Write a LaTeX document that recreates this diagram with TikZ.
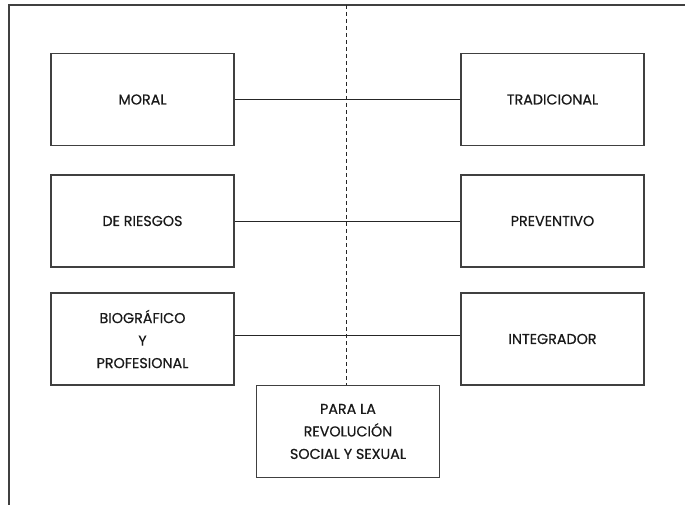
\documentclass[tikz,border=0pt]{standalone}
\usepackage{fontspec}
\setmainfont{Poppins}
\newfontfamily\cajafont{Poppins}[FakeBold=0.6]
\usetikzlibrary{positioning}
\definecolor{bGray}{gray}{0.25}
\definecolor{tGray}{gray}{0.1}
\tikzset{
    caja/.style={rectangle, draw=bGray, line width=1.2pt, minimum width=183pt, minimum height=92pt, inner sep=0pt, align=center, text=tGray, font=\cajafont\fontsize{14.3}{22.5}\selectfont},
    enlace/.style={draw=black!85, line width=1pt}
}

\begin{document}
\begin{tikzpicture}[x=1pt,y=-1pt]
\useasboundingbox (0,0) rectangle (685,505);
\draw[bGray, line width=1.6pt] (685,5) -- (9,5) -- (9,505);
\node[caja] (moral)       at (142.5, 99.5) {MORAL};
\node[caja] (riesgos)     at (142.5,221)   {DE RIESGOS};
\node[caja] (biografico)  at (142.5,339)   {BIOGRÁFICO\\Y\\PROFESIONAL};
\node[caja] (tradicional) at (552.5, 99.5) {TRADICIONAL};
\node[caja] (preventivo)  at (552.5,221)   {PREVENTIVO};
\node[caja] (integrador)  at (552.5,339)   {INTEGRADOR};
\node[caja] (revolucion)  at (348,431.5)   {PARA LA\\REVOLUCIÓN\\SOCIAL Y SEXUAL};
\coordinate (arriba) at (346,5);
\draw[enlace, dash pattern=on 4pt off 3pt] (arriba) -- (arriba |- revolucion.north);
\draw[enlace] (moral.east) -- (tradicional.west);
\draw[enlace] (riesgos.east) -- (preventivo.west);
\draw[enlace] ([yshift=4pt]biografico.east) -- ([yshift=4pt]integrador.west);
\end{tikzpicture}
\end{document}
